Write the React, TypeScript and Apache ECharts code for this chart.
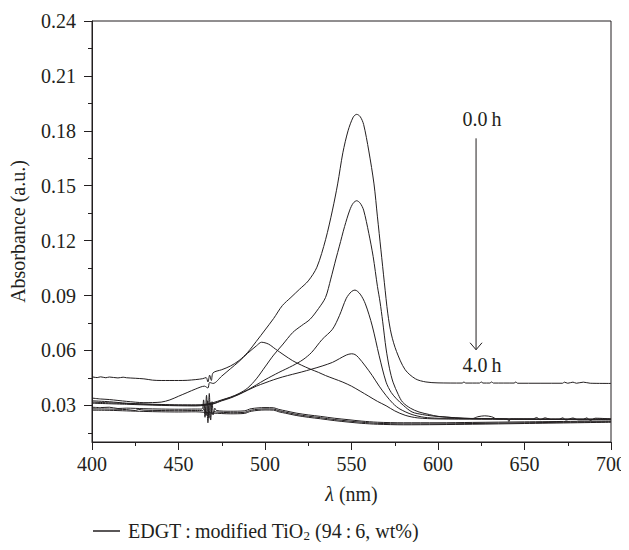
import React, { useEffect, useRef } from "react";
import * as echarts from "echarts";

const SERIES_NAME = "EDGT\u2009:\u2009modified TiO2 (94\u2009:\u20096, wt%)";
const FONT = '"Liberation Serif", "DejaVu Serif", serif';
const INK = "#231f20";

const xMin = 400;
const xMax = 700;
const xStep = 50;
const yMin = 0.01;
const yMax = 0.24;
const yMajorTicks = [0.03, 0.06, 0.09, 0.12, 0.15, 0.18, 0.21, 0.24];
const yMinorTicks = [0.015, 0.045, 0.075, 0.105, 0.135, 0.165, 0.195, 0.225];

// 0.0 h
const curve0h: number[][] = [
  [400, 0.0456], [403, 0.0452], [405, 0.0456], [408, 0.0451], [410, 0.0455], [415, 0.045], [418, 0.0454], [420, 0.0451],
  [430, 0.0445], [435, 0.0438], [440, 0.0436], [450, 0.0436], [455, 0.0437], [460, 0.0441], [464, 0.0446],
  [466, 0.0452], [467, 0.0428], [468, 0.0465], [469, 0.0436], [470, 0.0478], [475, 0.0495], [480, 0.0515],
  [485, 0.0545], [490, 0.059], [495, 0.065], [500, 0.0712], [505, 0.0775], [510, 0.0845], [515, 0.089],
  [520, 0.0935], [525, 0.098], [530, 0.1055], [535, 0.1205], [539, 0.1367], [542, 0.151], [545, 0.168],
  [548, 0.18], [551, 0.1875], [553, 0.189], [555, 0.1878], [557, 0.1835], [560, 0.169], [563, 0.151],
  [565, 0.133], [567, 0.115], [569, 0.097], [571, 0.08], [573, 0.069], [576, 0.0595], [581, 0.0495],
  [587, 0.0445], [593, 0.0428], [600, 0.0423], [614, 0.0422], [615, 0.0428], [616, 0.0422], [624, 0.0422],
  [625, 0.0428], [626, 0.0422], [630, 0.0422], [631, 0.0428], [632, 0.0422], [644, 0.0422], [645, 0.0428],
  [646, 0.0421], [672, 0.0421], [673, 0.0427], [675, 0.0421], [678, 0.0427], [680, 0.0421], [684, 0.0427],
  [688, 0.0421], [700, 0.042],
];

// intermediate irradiation times
const curveA: number[][] = [
  [400, 0.0325], [410, 0.032], [420, 0.0312], [430, 0.0308], [440, 0.0305], [450, 0.0303], [460, 0.0303],
  [465, 0.0305], [470, 0.0315], [475, 0.033], [480, 0.0345], [485, 0.0365], [490, 0.0395], [495, 0.0445],
  [500, 0.051], [505, 0.0575], [510, 0.063], [516, 0.0698], [521, 0.0735], [526, 0.077], [531, 0.083],
  [535, 0.089], [538, 0.099], [541, 0.11], [543, 0.117], [546, 0.1277], [549, 0.1367], [551, 0.1405],
  [553, 0.1418], [555, 0.1405], [557, 0.1367], [560, 0.124], [562.5, 0.1114], [565, 0.095], [566.5, 0.0865],
  [568, 0.076], [570, 0.0608], [572, 0.05], [574, 0.0427], [577, 0.036], [579.5, 0.0318], [584, 0.0285],
  [589, 0.0264], [595, 0.025], [600, 0.024], [620, 0.0228], [655, 0.0226], [657, 0.0234], [659, 0.0222],
  [662, 0.0232], [665, 0.0224], [700, 0.0226],
];

const curveB: number[][] = [
  [400, 0.0318], [420, 0.031], [440, 0.0303], [460, 0.03], [470, 0.031], [475, 0.0328], [480, 0.0343],
  [485, 0.0362], [490, 0.0385], [495, 0.0412], [500, 0.044], [508, 0.048], [516, 0.0517], [522, 0.055],
  [527, 0.059], [533, 0.066], [539, 0.0716], [543, 0.079], [547, 0.0885], [550, 0.0922], [552, 0.093],
  [555, 0.0908], [558, 0.0855], [562, 0.0734], [566, 0.0571], [570, 0.0427], [573, 0.037], [576, 0.0336],
  [580, 0.03], [585, 0.0264], [591, 0.025], [597, 0.0242], [620, 0.0228], [623, 0.0238], [627, 0.0243],
  [631, 0.0238], [634, 0.0226], [670, 0.0224], [672, 0.0232], [674, 0.022], [678, 0.0231], [681, 0.0221],
  [700, 0.0224],
];

const curveC: number[][] = [
  [400, 0.0312], [420, 0.0306], [440, 0.03], [460, 0.0297], [470, 0.0308], [475, 0.0325], [480, 0.034],
  [485, 0.036], [490, 0.0383], [495, 0.0405], [500, 0.0423], [505, 0.044], [510, 0.0455], [516, 0.047],
  [521, 0.0482], [527, 0.0498], [533, 0.0515], [539, 0.0535], [543, 0.0555], [547, 0.0575], [550, 0.0582],
  [552, 0.0578], [554, 0.0562], [558, 0.0515], [562, 0.0463], [566, 0.0405], [570, 0.0354], [574, 0.031],
  [578, 0.028], [585, 0.025], [592, 0.0235], [600, 0.023], [640, 0.0226], [641, 0.0212], [642, 0.0226],
  [700, 0.0224],
];

const curveD: number[][] = [
  [400, 0.034], [405, 0.0335], [410, 0.0332], [420, 0.0322], [430, 0.0315], [440, 0.0318], [445, 0.033],
  [450, 0.035], [455, 0.037], [460, 0.039], [465, 0.0405], [467, 0.0395], [468, 0.0425], [470, 0.042],
  [475, 0.046], [480, 0.05], [485, 0.054], [490, 0.0585], [495, 0.0625], [498, 0.0645], [502, 0.0635],
  [506, 0.0608], [511, 0.0575], [516, 0.0544], [521, 0.052], [526, 0.0499], [531, 0.048], [535, 0.0463],
  [540, 0.0445], [545, 0.0427], [550, 0.0405], [555, 0.0378], [560, 0.035], [565, 0.0322], [570, 0.0298],
  [575, 0.027], [581, 0.0246], [588, 0.0232], [600, 0.0226], [650, 0.0224], [684, 0.0224], [686, 0.0232],
  [688, 0.0218], [691, 0.023], [700, 0.0226],
];

// late irradiation times (nearly flat)
const curveE: number[][] = [
  [400, 0.029], [405, 0.0288], [410, 0.029], [415, 0.0283], [420, 0.0285], [430, 0.0282], [440, 0.028],
  [450, 0.0279], [460, 0.028], [463.5, 0.028], [464.5, 0.033], [465.3, 0.0235], [466.2, 0.0355], [467, 0.0205],
  [467.8, 0.0365], [468.6, 0.022], [469.4, 0.032], [470.2, 0.025], [471, 0.0285], [472, 0.0272], [480, 0.0268],
  [488, 0.027], [492, 0.0282], [500, 0.0288], [505, 0.0287], [508, 0.0278], [512, 0.027], [518, 0.0258],
  [525, 0.0248], [532, 0.024], [540, 0.023], [548, 0.0222], [556, 0.0214], [565, 0.0208], [580, 0.0205],
  [600, 0.0205], [620, 0.0207], [650, 0.021], [700, 0.0215],
];

const curveF: number[][] = [
  [400, 0.0281], [410, 0.028], [420, 0.0277], [425, 0.0272], [427, 0.0278], [430, 0.0274], [440, 0.0272],
  [450, 0.0271], [460, 0.0272], [464, 0.0272], [465, 0.0305], [466, 0.0245], [466.8, 0.0325], [467.6, 0.023],
  [468.5, 0.0315], [469.5, 0.025], [470.5, 0.0266], [472, 0.0264], [480, 0.026], [488, 0.0262], [492, 0.0274],
  [500, 0.0281], [505, 0.028], [508, 0.0271], [512, 0.0263], [518, 0.0251], [525, 0.0241], [532, 0.0233],
  [540, 0.0223], [548, 0.0215], [556, 0.0208], [565, 0.0202], [580, 0.0199], [600, 0.0199], [620, 0.0201],
  [650, 0.0205], [700, 0.0211],
];

const curveG: number[][] = [
  [400, 0.0274], [410, 0.0273], [420, 0.027], [430, 0.0267], [440, 0.0265], [450, 0.0264], [460, 0.0265],
  [470, 0.0258], [480, 0.0254], [488, 0.0256], [492, 0.0268], [500, 0.0275], [505, 0.0274], [508, 0.0265],
  [512, 0.0257], [518, 0.0245], [525, 0.0235], [532, 0.0227], [540, 0.0217], [548, 0.0209], [556, 0.0202],
  [565, 0.0197], [580, 0.0194], [600, 0.0195], [620, 0.0197], [650, 0.0201], [700, 0.0208],
];

const curves = [curve0h, curveA, curveB, curveC, curveD, curveE, curveF, curveG];

// annotation (data coordinates)
const arrowX = 622;
const arrowTop = 0.1759;
const arrowBottom = 0.0604;
const labelX = 625.4;
const labelStartY = 0.1862;
const labelEndY = 0.0522;
const labelStart = "0.0\u2009h";
const labelEnd = "4.0\u2009h";

export default function App() {
  const ref = useRef<HTMLDivElement>(null);

  useEffect(() => {
    if (!ref.current) return;
    const chart = echarts.init(ref.current, undefined, { renderer: "svg" });
    const axisFont = { fontFamily: FONT, fontSize: 20, color: INK };

    chart.setOption({
      animation: false,
      backgroundColor: "#ffffff",
      grid: {
        left: 92,
        right: 17,
        top: 21,
        bottom: 108,
        show: true,
        borderColor: INK,
        borderWidth: 1,
        backgroundColor: "transparent",
      },
      legend: {
        left: 88,
        top: 516,
        data: [SERIES_NAME],
        icon: "rect",
        itemWidth: 27,
        itemHeight: 1.5,
        itemGap: 10,
        selectedMode: false,
        formatter: () => "EDGT\u2009:\u2009modified TiO{sub|2} (94\u2009:\u20096, wt%)",
        textStyle: {
          fontFamily: FONT,
          fontSize: 20,
          color: INK,
          padding: [0, 0, 0, 3],
          rich: {
            sub: { fontFamily: FONT, fontSize: 13, color: INK, verticalAlign: "bottom", padding: [9, 0, 0, 0] },
          },
        },
      },
      xAxis: {
        type: "value",
        min: xMin,
        max: xMax,
        interval: xStep,
        axisLine: { show: true, lineStyle: { color: INK, width: 1 } },
        axisTick: { show: true, inside: false, length: 8, lineStyle: { color: INK } },
        minorTick: { show: true, splitNumber: 2, length: 4, lineStyle: { color: INK } },
        splitLine: { show: false },
        minorSplitLine: { show: false },
        axisLabel: { ...axisFont, margin: 12 },
        name: "{i|λ} (nm)",
        nameLocation: "middle",
        nameGap: 42,
        nameTextStyle: {
          ...axisFont,
          rich: { i: { fontFamily: FONT, fontSize: 20, fontStyle: "italic", color: INK } },
        },
      },
      yAxis: [
        {
          type: "value",
          min: yMin,
          max: yMax,
          axisLine: { show: true, lineStyle: { color: INK, width: 1 } },
          axisTick: { show: true, inside: false, length: 8, customValues: yMajorTicks, lineStyle: { color: INK } },
          axisLabel: {
            ...axisFont,
            margin: 16,
            customValues: yMajorTicks,
            formatter: (v: number) => v.toFixed(2),
          },
          splitLine: { show: false },
          name: "Absorbance (a.u.)",
          nameLocation: "middle",
          nameGap: 64,
          nameTextStyle: { ...axisFont },
        },
        {
          type: "value",
          min: yMin,
          max: yMax,
          position: "left",
          axisLine: { show: false },
          axisTick: { show: true, inside: false, length: 4, customValues: yMinorTicks, lineStyle: { color: INK } },
          axisLabel: { show: false, customValues: yMinorTicks },
          splitLine: { show: false },
        },
      ],
      series: curves.map((c) => ({
        name: SERIES_NAME,
        type: "line",
        data: c,
        xAxisIndex: 0,
        yAxisIndex: 0,
        showSymbol: false,
        symbol: "none",
        smooth: 0.3,
        color: INK,
        itemStyle: { color: INK },
        lineStyle: { color: INK, width: 1 },
        silent: true,
      })),
    });

    const pTop = chart.convertToPixel({ xAxisIndex: 0, yAxisIndex: 0 }, [arrowX, arrowTop]) as number[];
    const pBot = chart.convertToPixel({ xAxisIndex: 0, yAxisIndex: 0 }, [arrowX, arrowBottom]) as number[];
    const pL0 = chart.convertToPixel({ xAxisIndex: 0, yAxisIndex: 0 }, [labelX, labelStartY]) as number[];
    const pL1 = chart.convertToPixel({ xAxisIndex: 0, yAxisIndex: 0 }, [labelX, labelEndY]) as number[];
    const font = `20px ${FONT}`;

    chart.setOption({
      graphic: [
        {
          type: "line",
          shape: { x1: pTop[0], y1: pTop[1], x2: pBot[0], y2: pBot[1] },
          style: { stroke: INK, lineWidth: 1 },
          silent: true,
        },
        {
          type: "polyline",
          shape: { points: [[pBot[0] - 6, pBot[1] - 7], [pBot[0], pBot[1]], [pBot[0] + 6, pBot[1] - 7]] },
          style: { stroke: INK, lineWidth: 1, fill: "none" },
          silent: true,
        },
        {
          type: "text",
          x: pL0[0],
          y: pL0[1],
          style: { text: labelStart, font, fill: INK, textAlign: "center", textVerticalAlign: "middle" },
          silent: true,
        },
        {
          type: "text",
          x: pL1[0],
          y: pL1[1],
          style: { text: labelEnd, font, fill: INK, textAlign: "center", textVerticalAlign: "middle" },
          silent: true,
        },
      ],
    });

    return () => chart.dispose();
  }, []);

  return <div ref={ref} style={{ width: 629, height: 550, margin: -8 }} />;
}
